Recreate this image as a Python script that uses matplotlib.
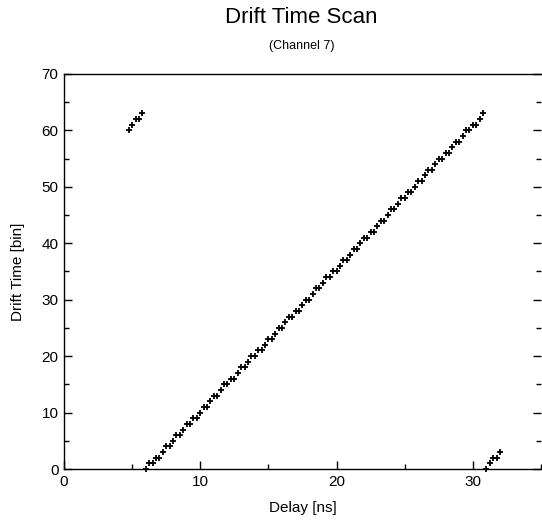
import matplotlib
matplotlib.use('Agg')
import matplotlib.pyplot as plt
from matplotlib.ticker import MultipleLocator

plt.rcParams['font.family'] = ['Liberation Sans', 'DejaVu Sans']

# scan points before the wrap (top left corner)
delay_early = [4.75, 5.0, 5.25, 5.5, 5.75]
bin_early = [60, 61, 62, 62, 63]

# main scan
delay_main = [6.0, 6.25, 6.5, 6.75, 7.0, 7.25, 7.5, 7.75, 8.0, 8.25,
              8.5, 8.75, 9.0, 9.25, 9.5, 9.75, 10.0, 10.25, 10.5, 10.75,
              11.0, 11.25, 11.5, 11.75, 12.0, 12.25, 12.5, 12.75, 13.0, 13.25,
              13.5, 13.75, 14.0, 14.25, 14.5, 14.75, 15.0, 15.25, 15.5, 15.75,
              16.0, 16.25, 16.5, 16.75, 17.0, 17.25, 17.5, 17.75, 18.0, 18.25,
              18.5, 18.75, 19.0, 19.25, 19.5, 19.75, 20.0, 20.25, 20.5, 20.75,
              21.0, 21.25, 21.5, 21.75, 22.0, 22.25, 22.5, 22.75, 23.0, 23.25,
              23.5, 23.75, 24.0, 24.25, 24.5, 24.75, 25.0, 25.25, 25.5, 25.75,
              26.0, 26.25, 26.5, 26.75, 27.0, 27.25, 27.5, 27.75, 28.0, 28.25,
              28.5, 28.75, 29.0, 29.25, 29.5, 29.75, 30.0, 30.25, 30.5, 30.75]
bin_main = [0, 1, 1, 2, 2, 3, 4, 4, 5, 6,
            6, 7, 8, 8, 9, 9, 10, 11, 11, 12,
            13, 13, 14, 15, 15, 16, 16, 17, 18, 18,
            19, 20, 20, 21, 21, 22, 23, 23, 24, 25,
            25, 26, 27, 27, 28, 28, 29, 30, 30, 31,
            32, 32, 33, 34, 34, 35, 35, 36, 37, 37,
            38, 39, 39, 40, 41, 41, 42, 42, 43, 44,
            44, 45, 46, 46, 47, 48, 48, 49, 49, 50,
            51, 51, 52, 53, 53, 54, 55, 55, 56, 56,
            57, 58, 58, 59, 60, 60, 61, 61, 62, 63]

# after the wrap (bottom right corner)
delay_late = [31.0, 31.25, 31.5, 31.75, 32.0]
bin_late = [0, 1, 2, 2, 3]

fig = plt.figure(figsize=(5.42, 5.20), dpi=100)
ax = fig.add_axes([0.118, 0.098, 0.880, 0.760])

for xs, ys in [(delay_early, bin_early), (delay_main, bin_main), (delay_late, bin_late)]:
    ax.plot(xs, ys, linestyle='none', marker='+', color='black',
            markersize=5, markeredgewidth=1.3, clip_on=False)

ax.set_xlim(0, 35)
ax.set_ylim(0, 70)
ax.xaxis.set_major_locator(MultipleLocator(10))
ax.xaxis.set_minor_locator(MultipleLocator(5))
ax.yaxis.set_major_locator(MultipleLocator(10))
ax.yaxis.set_minor_locator(MultipleLocator(5))

ax.spines['right'].set_visible(False)
for s in ['left', 'bottom', 'top']:
    ax.spines[s].set_linewidth(1.0)

ax.tick_params(which='both', direction='in', top=False, right=True,
               labelsize=11, width=1.0)
ax.tick_params(which='major', length=6, pad=4)
ax.tick_params(which='minor', length=3.5)

ax.set_xlabel('Delay [ns]', fontsize=11, labelpad=9)
ax.set_ylabel('Drift Time [bin]', fontsize=11, labelpad=12)

fig.text(0.556, 0.966, 'Drift Time Scan', ha='center', va='center', fontsize=16)
fig.text(0.556, 0.912, '(Channel 7)', ha='center', va='center', fontsize=9)

plt.savefig('out.png', dpi=100)
